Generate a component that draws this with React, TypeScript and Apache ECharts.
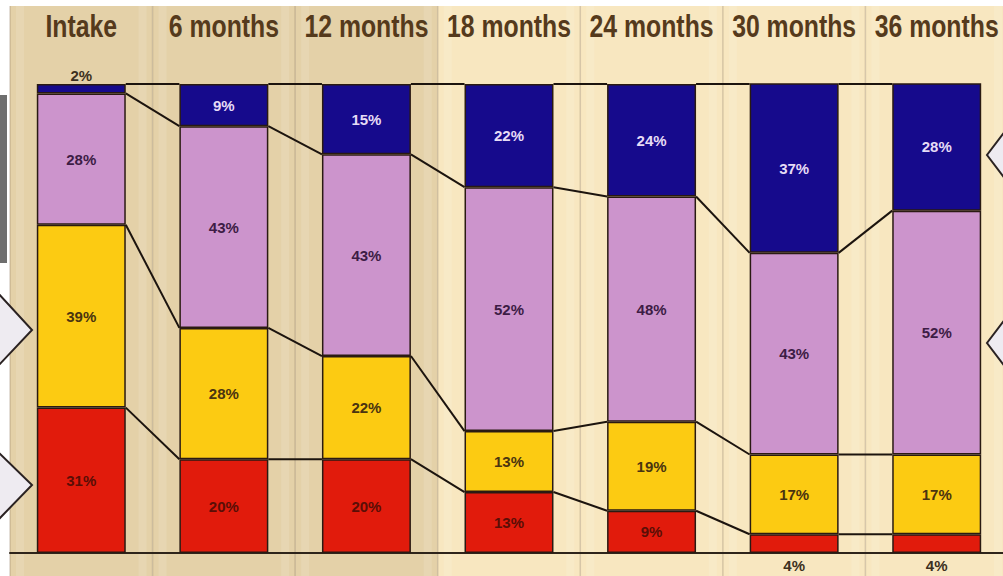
import React, { useEffect, useRef } from "react";
import * as echarts from "echarts";

const categories = ["Intake", "6 months", "12 months", "18 months", "24 months", "30 months", "36 months"];
const redValues = [31, 20, 20, 13, 9, 4, 4];
const yellowValues = [39, 28, 22, 13, 19, 17, 17];
const pinkValues = [28, 43, 43, 52, 48, 43, 52];
const navyValues = [2, 9, 15, 22, 24, 37, 28];

const DARK_BAND = "#e4d1a8";
const LIGHT_BAND = "#f8e7c0";
const bandColors = [DARK_BAND, DARK_BAND, DARK_BAND, LIGHT_BAND, LIGHT_BAND, LIGHT_BAND, LIGHT_BAND];
const BAR_RATIO = 0.624;

export default function App() {
  const ref = useRef<HTMLDivElement>(null);
  useEffect(() => {
    if (!ref.current) return;
    const chart = echarts.init(ref.current, null, { renderer: "svg" });

    const cum = categories.map((_, i) => {
      const a = redValues[i];
      const b = a + yellowValues[i];
      const c = b + pinkValues[i];
      const d = Math.min(100, c + navyValues[i]);
      return [a, b, c, d];
    });
    const linkData: number[][] = [];
    for (let i = 0; i < categories.length - 1; i++) {
      for (let k = 0; k < 4; k++) linkData.push([i, cum[i][k], cum[i + 1][k]]);
    }

    const labelFont = { fontFamily: "Liberation Sans, Arial, sans-serif", fontWeight: "bold" as const, fontSize: 15 };
    const border = { borderColor: "#2a1a12", borderWidth: 1.5 };

    const mkBar = (name: string, vals: number[], color: string, labelColor: string, special?: (v: number, i: number) => any) => ({
      name,
      type: "bar",
      stack: "total",
      barWidth: BAR_RATIO * 100 + "%",
      itemStyle: { color, ...border },
      label: { show: true, position: "inside", formatter: "{c}%", color: labelColor, ...labelFont },
      data: vals.map((v, i) => (special ? special(v, i) : v)),
      z: 3,
    });

    chart.setOption({
      animation: false,
      backgroundColor: "#ffffff",
      grid: { left: 10, width: 998, top: 84, height: 469 },
      xAxis: [
        {
          type: "category",
          data: categories,
          position: "top",
          axisLine: { show: false },
          axisTick: { show: false },
          axisLabel: { show: false },
        },
        {
          type: "category",
          data: categories,
          position: "bottom",
          axisLine: { show: true, lineStyle: { color: "#2e241a", width: 2 } },
          axisTick: { show: false },
          axisLabel: { show: false },
        },
      ],
      yAxis: { type: "value", min: 0, max: 100, show: false, splitLine: { show: false } },
      series: [
        {
          type: "custom",
          silent: true,
          clip: false,
          z: -1,
          encode: { x: 0, y: 1 },
          data: categories.map((_, i) => [i, 0]),
          renderItem: (params: any, api: any) => {
            const i = api.value(0);
            const c = api.coord([i, 0]);
            const w = api.size([1, 0])[0];
            const H = api.getHeight();
            const x0 = c[0] - w / 2;
            return {
              type: "group",
              children: [
                { type: "rect", shape: { x: x0, y: 6, width: w, height: H - 6 }, style: { fill: bandColors[i] } },
                { type: "rect", shape: { x: x0 + 6, y: 6, width: 8, height: H - 6 }, style: { fill: "rgba(255,255,255,0.12)" } },
                { type: "rect", shape: { x: x0 + w - 14, y: 6, width: 8, height: H - 6 }, style: { fill: "rgba(255,255,255,0.12)" } },
                { type: "line", shape: { x1: x0, y1: 6, x2: x0, y2: H }, style: { stroke: "rgba(150,130,100,0.35)", lineWidth: 1.5 } },
              ],
            };
          },
        },
        {
          type: "custom",
          silent: true,
          clip: false,
          z: 5,
          encode: { x: 0, y: 1 },
          data: categories.map((_, i) => [i, 100]),
          renderItem: (params: any, api: any) => {
            const i = api.value(0);
            const c = api.coord([i, 100]);
            return {
              type: "text",
              x: c[0],
              y: 27,
              scaleX: 0.8,
              style: {
                text: categories[i],
                x: 0,
                y: 0,
                align: "center",
                verticalAlign: "middle",
                fill: "#553a1c",
                fontSize: 31,
                fontWeight: "bold",
                fontFamily: "Liberation Sans, Arial, sans-serif",
              },
            };
          },
        },
        mkBar("Red", redValues, "#e11b0c", "#5a0e06", (v) =>
          v < 6 ? { value: v, label: { position: "bottom", distance: 5, color: "#3d3020" } } : v
        ),
        mkBar("Yellow", yellowValues, "#fccb12", "#4a3410"),
        mkBar("Pink", pinkValues, "#cc94cc", "#3d1c45"),
        mkBar("Navy", navyValues, "#160a8c", "#e6dcf6", (v) =>
          v < 5 ? { value: v, label: { position: "top", distance: 1, color: "#3d3020" } } : v
        ),
        {
          type: "custom",
          silent: true,
          clip: false,
          z: 4,
          encode: { x: 0, y: 1 },
          data: linkData,
          renderItem: (params: any, api: any) => {
            const i = api.value(0);
            const p1 = api.coord([i, api.value(1)]);
            const p2 = api.coord([i + 1, api.value(2)]);
            const hw = (api.size([1, 0])[0] * BAR_RATIO) / 2;
            return {
              type: "line",
              shape: { x1: p1[0] + hw, y1: p1[1], x2: p2[0] - hw, y2: p2[1] },
              style: { stroke: "#1c140e", lineWidth: 2 },
            };
          },
        },
      ],
      graphic: [
        { type: "rect", shape: { x: 0, y: 95, width: 7, height: 168 }, style: { fill: "#6e6e6e" }, z: 10 },
        { type: "polygon", shape: { points: [[-2, 293], [32, 330], [-2, 366]] }, style: { fill: "#eeebf1", stroke: "#2a2222", lineWidth: 2 }, z: 10 },
        { type: "polygon", shape: { points: [[-2, 452], [32, 485], [-2, 520]] }, style: { fill: "#eeebf1", stroke: "#2a2222", lineWidth: 2 }, z: 10 },
        { type: "polygon", shape: { points: [[1006, 130], [987, 155], [1006, 180]] }, style: { fill: "#eeebf1", stroke: "#2a2222", lineWidth: 2 }, z: 10 },
        { type: "polygon", shape: { points: [[1006, 318], [987, 343], [1006, 368]] }, style: { fill: "#eeebf1", stroke: "#2a2222", lineWidth: 2 }, z: 10 },
      ],
    });
    return () => chart.dispose();
  }, []);
  return (
    <div style={{ position: "absolute", left: 0, top: 0, width: 1003, height: 576, overflow: "hidden" }}>
      <div ref={ref} style={{ position: "absolute", left: 0, top: 0, width: 1012, height: 576 }} />
    </div>
  );
}
